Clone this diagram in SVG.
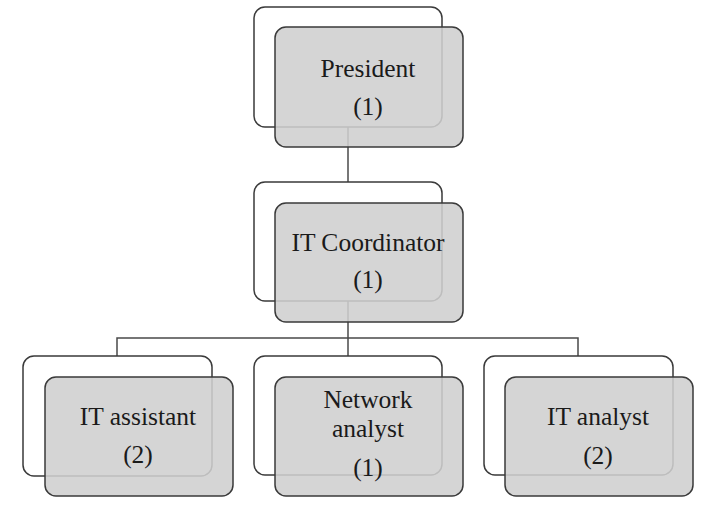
<svg xmlns="http://www.w3.org/2000/svg" width="703" height="512" viewBox="0 0 703 512">
<style>
.back{fill:#ffffff;stroke:#3a3a3a;stroke-width:1.5}
.front{fill:#cfcfcf;fill-opacity:0.88;stroke:#3a3a3a;stroke-width:1.5}
.lbl{font-family:"Liberation Serif","Times New Roman",serif;font-size:25.5px;fill:#1a1a1a;text-anchor:middle}
.conn{fill:none;stroke:#4a4a4a;stroke-width:1.5}
</style>
<rect width="703" height="512" fill="#ffffff"/>
<g id="connectors">
<path class="conn" d="M348 127 V182"/>
<path class="conn" d="M348 301 V338"/>
<path class="conn" d="M117 356 V338 H578 V356"/>
<path class="conn" d="M348 338 V356"/>
</g>
<g id="president">
<rect class="back" x="254" y="7" width="188" height="120" rx="11"/>
<rect class="front" x="275" y="27" width="188" height="120" rx="11"/>
<text class="lbl" x="368" y="77">President</text>
<text class="lbl" x="368" y="115">(1)</text>
</g>
<g id="it-coordinator">
<rect class="back" x="254" y="182" width="188" height="119" rx="11"/>
<rect class="front" x="275" y="203" width="188" height="119" rx="11"/>
<text class="lbl" x="368" y="251">IT Coordinator</text>
<text class="lbl" x="368" y="288">(1)</text>
</g>
<g id="it-assistant">
<rect class="back" x="23" y="356" width="189" height="120" rx="11"/>
<rect class="front" x="45" y="377" width="188" height="119" rx="11"/>
<text class="lbl" x="138" y="425">IT assistant</text>
<text class="lbl" x="138" y="463">(2)</text>
</g>
<g id="network-analyst">
<rect class="back" x="254" y="356" width="188" height="119" rx="11"/>
<rect class="front" x="275" y="377" width="188" height="119" rx="11"/>
<text class="lbl" x="368" y="408">Network</text>
<text class="lbl" x="368" y="437">analyst</text>
<text class="lbl" x="368" y="476">(1)</text>
</g>
<g id="it-analyst">
<rect class="back" x="484" y="356" width="189" height="119" rx="11"/>
<rect class="front" x="505" y="377" width="188" height="119" rx="11"/>
<text class="lbl" x="598" y="425">IT analyst</text>
<text class="lbl" x="598" y="464">(2)</text>
</g>
</svg>
